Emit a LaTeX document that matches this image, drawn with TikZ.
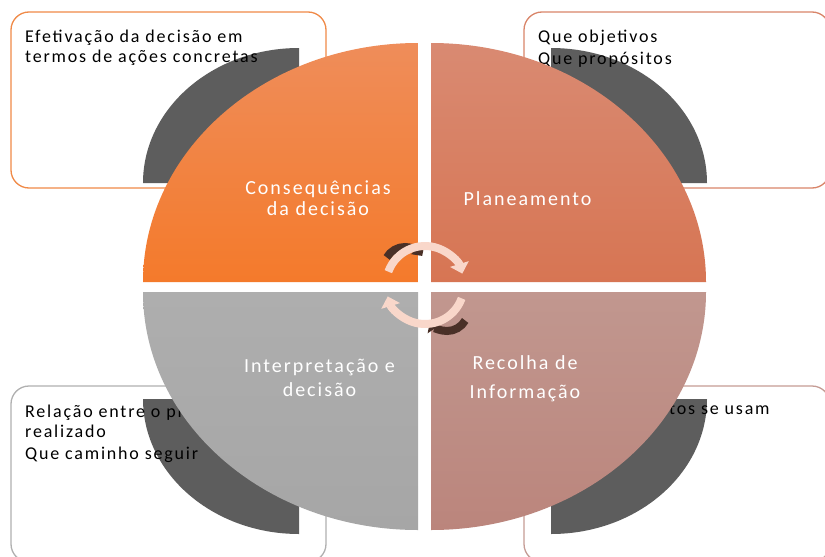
\documentclass[tikz,border=0pt]{standalone}
\usepackage{fontspec}
\setmainfont{Carlito}
\newfontfamily\boxfont[LetterSpace=10]{Carlito}
\newfontfamily\labfont[LetterSpace=10]{Carlito}
\usetikzlibrary{arrows.meta}
\definecolor{tlTop}{HTML}{EF8D5A}
\definecolor{tlBot}{HTML}{F47A2B}
\definecolor{trTop}{HTML}{D98A72}
\definecolor{trBot}{HTML}{D77553}
\definecolor{blTop}{HTML}{AEAEAE}
\definecolor{blBot}{HTML}{A6A6A6}
\definecolor{brTop}{HTML}{C1978F}
\definecolor{brBot}{HTML}{BB857C}
\definecolor{arcgray}{HTML}{5D5D5D}
\definecolor{arrowlight}{HTML}{F9D7CA}
\definecolor{arrowdark}{HTML}{4A3027}
\definecolor{tlLine}{HTML}{F08A48}
\definecolor{trLine}{HTML}{D98569}
\definecolor{blLine}{HTML}{B0B0B0}
\definecolor{brLine}{HTML}{C59C95}
\tikzset{
  infobox/.style={draw, line width=1.3pt, fill=white, rounded corners=18pt},
  darkquarter/.style={fill=arcgray},
  boxtext/.style={anchor=north west, inner sep=0pt, align=left, text=black,
    font=\boxfont\fontsize{18}{20}\selectfont},
  quadlabel/.style={anchor=north, inner sep=0pt, align=center, text=white,
    font=\labfont\fontsize{20}{21}\selectfont},
  lightarrow/.style={draw=arrowlight, line width=8pt, -{Triangle[length=10pt,width=19pt]}},
  darkarrow/.style={draw=arrowdark, line width=8pt, -{Triangle[length=8pt,width=16pt]}}
}
\newcommand{\firststrut}{\rule{0pt}{1em}}
\begin{document}
\begin{tikzpicture}[x=1pt,y=-1pt]
\useasboundingbox (0,0) rectangle (825,557);
\fill[white] (0,0) rectangle (825,557);
% boxes
\draw[infobox, draw=tlLine] (11,12) rectangle (326,188);
\draw[infobox, draw=trLine] (524,12) rectangle (830,188);
\draw[infobox, draw=blLine] (11,386) rectangle (326,562);
\draw[infobox, draw=brLine] (524,386) rectangle (830,562);
% dark quarter shapes
\fill[darkquarter] (299,183) -- (143,183) arc[start angle=180,end angle=270,x radius=156,y radius=135] -- cycle;
\fill[darkquarter] (551,183) -- (551,48) arc[start angle=270,end angle=360,x radius=156,y radius=135] -- cycle;
\fill[darkquarter] (299,399) -- (299,534) arc[start angle=90,end angle=180,x radius=156,y radius=135] -- cycle;
\fill[darkquarter] (551,399) -- (707,399) arc[start angle=0,end angle=90,x radius=156,y radius=135] -- cycle;
% box texts
\node[boxtext] (txtTL) at (25,24.5) {\firststrut Efetivação da decisão em\\termos de ações concretas};
\node[boxtext, font=\boxfont\fontsize{18}{22}\selectfont] (txtTR) at (538,24) {\firststrut Que objetivos\\Que propósitos};
\node[boxtext, font=\boxfont\fontsize{18}{20}\selectfont] (txtBL) at (25,399) {\firststrut Relação entre o planeado e o\\realizado\\[2.5pt]Que caminho seguir};
\node[boxtext] (txtBR) at (538,396) {\firststrut Que instrumentos se usam};
% quadrants
\shade[top color=tlTop, bottom color=tlBot] (418,282) -- (143,282) arc[start angle=180,end angle=270,x radius=275,y radius=239] -- cycle;
\shade[top color=trTop, bottom color=trBot] (431,282) -- (431,43) arc[start angle=270,end angle=360,x radius=275,y radius=239] -- cycle;
\shade[top color=blTop, bottom color=blBot] (418,292) -- (418,530) arc[start angle=90,end angle=180,x radius=275,y radius=238] -- cycle;
\shade[top color=brTop, bottom color=brBot] (431,292) -- (706,292) arc[start angle=0,end angle=90,x radius=275,y radius=238] -- cycle;
% quadrant labels
\node[quadlabel] (labTL) at (318,174) {\firststrut Consequências\\da decisão};
\node[quadlabel] (labTR) at (527.5,185) {\firststrut Planeamento};
\node[quadlabel, font=\labfont\fontsize{20}{24}\selectfont] (labBL) at (319.5,352) {\firststrut Interpretação e\\decisão};
\node[quadlabel, font=\labfont\fontsize{20}{29}\selectfont] (labBR) at (525,349) {\firststrut Recolha de\\Informação};
% centre arrows
\coordinate (cyc) at (425,285);
\coordinate (shA) at (405,268);
\coordinate (shB) at (447,310);
\draw[darkarrow] (shA) ++(210:21) arc[start angle=210,end angle=325,radius=21];
\draw[darkarrow] (shB) ++(30:21) arc[start angle=30,end angle=145,radius=21];
\draw[lightarrow] (cyc) ++(200:39) arc[start angle=200,end angle=343,radius=39];
\draw[lightarrow] (cyc) ++(20:39) arc[start angle=20,end angle=163,radius=39];
\end{tikzpicture}
\end{document}
